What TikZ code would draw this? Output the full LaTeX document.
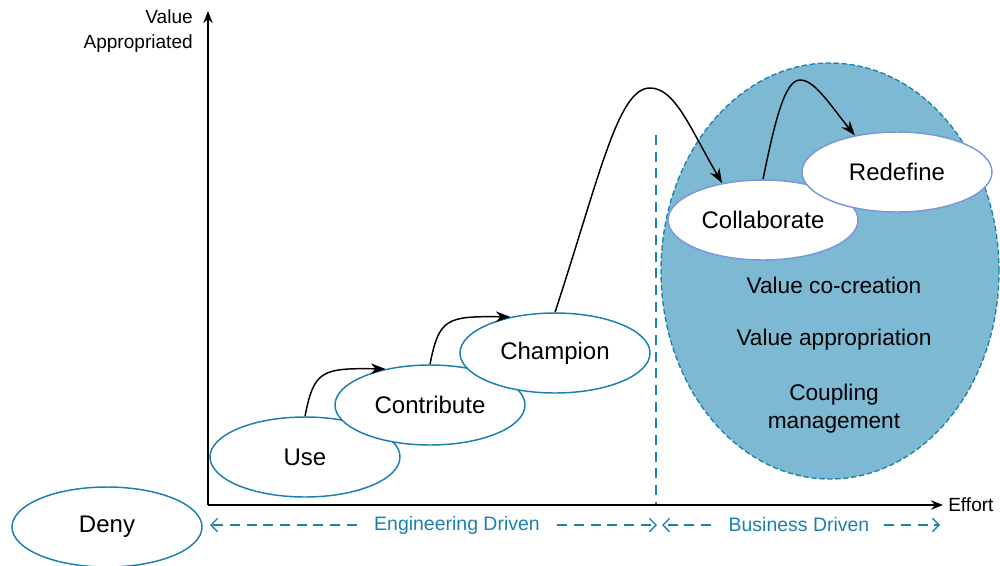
\documentclass[tikz,border=0pt]{standalone}
\usepackage{fontspec}
\setmainfont{Liberation Sans}
\usetikzlibrary{shapes.geometric,arrows.meta}
\definecolor{teal1}{HTML}{1B80AF}
\definecolor{bigfill}{HTML}{7DB9D3}
\definecolor{lightb}{HTML}{7A98DE}
\tikzset{
  stage/.style={ellipse,draw=teal1,line width=1.1pt,fill=white,minimum width=142.5pt,minimum height=60pt,inner sep=0pt,font=\fontsize{18}{21}\selectfont},
  stagel/.style={stage,draw=lightb},
  axisline/.style={line width=1.5pt,-{Stealth[length=9pt,width=7pt]}},
  flow/.style={line width=1.1pt,-{Stealth[length=11pt,width=8pt]}},
  lbl/.style={font=\fontsize{14.3}{17}\selectfont,inner sep=0pt},
  bluelbl/.style={lbl,font=\fontsize{14.6}{17}\selectfont,text=teal1},
  dasharrow/.style={teal1,line width=1pt,dash pattern=on 7.5pt off 5pt,-{Straight Barb[length=5pt,width=10pt]}},
  inner/.style={font=\fontsize{17}{20}\selectfont,align=center,inner sep=0pt}
}
\begin{document}
\begin{tikzpicture}[x=0.75pt,y=-0.75pt]
\useasboundingbox (0,0) rectangle (1000,565);
% big ellipse
\node[ellipse,fill=bigfill,draw=teal1,line width=1pt,dash pattern=on 4pt off 2pt,minimum width=253.5pt,minimum height=312pt,inner sep=0pt] (biz) at (830,271) {};
% vertical dashed divider
\coordinate (divtop) at (656,135);
\coordinate (divbot) at (656,505);
\draw[teal1,line width=1pt,dash pattern=on 7.5pt off 5pt] (divtop) -- (divbot);
% axes
\coordinate (origin) at (208,505);
\coordinate (ytip) at (208,11);
\coordinate (xtip) at (943,505);
\draw[axisline] (origin) -- (ytip);
\draw[axisline] (origin) -- (xtip);
\node[lbl,align=right,anchor=east] (ylab) at (193,31) {Value\\[2pt]Appropriated};
\node[lbl,anchor=west] (xlab) at (948,505) {Effort};
% stages
\node[stage] (deny) at (107,527) {Deny};
\node[stage] (use) at (305,457) {Use};
\node[stage] (contrib) at (430,405) {Contribute};
\node[stage] (champ) at (555,353) {Champion};
\node[stagel] (collab) at (763,220) {Collaborate};
\node[stagel] (redef) at (897,172) {Redefine};
% inner texts
\node[inner] (vcc) at (834,285) {Value co-creation};
\node[inner] (vap) at (834,340) {Value appropriation};
\node[inner] (cpl) at (834,409) {Coupling\\[1pt]management};
% flows
\draw[flow] (use.north) .. controls (314,370) and (322,368) .. (contrib.141);
\draw[flow] (contrib.north) .. controls (439,318) and (447,316) .. (champ.141);
\draw[flow] (champ.north) .. controls (600,175) and (618,88) .. (650,88) .. controls (675,88) and (690,128) .. (collab.138);
\draw[flow] (collab.north) .. controls (775,120) and (785,80) .. (800,80) .. controls (815,80) and (830,105) .. (redef.139);
% bottom labels
\node[bluelbl] (eng) at (457,525) {Engineering Driven};
\node[bluelbl] (bus) at (799,525) {Business Driven};
\coordinate (engL) at (210,525);
\coordinate (engR) at (657,525);
\coordinate (busL) at (662,525);
\coordinate (busR) at (940,525);
\draw[dasharrow,shorten <=13pt] (eng.west) -- (engL);
\draw[dasharrow,shorten <=13pt] (eng.east) -- (engR);
\draw[dasharrow,shorten <=13pt] (bus.west) -- (busL);
\draw[dasharrow,shorten <=11pt] (bus.east) -- (busR);
\end{tikzpicture}
\end{document}
